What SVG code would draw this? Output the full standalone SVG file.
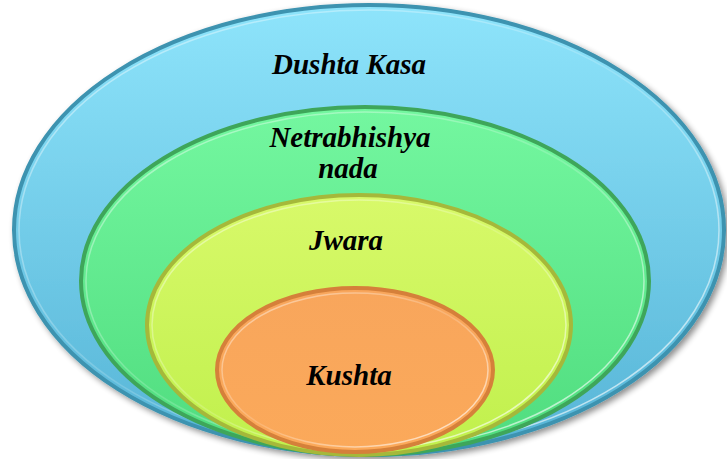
<svg xmlns="http://www.w3.org/2000/svg" width="727" height="459" viewBox="0 0 727 459">
<defs>
<linearGradient id="gBlue" x1="0" y1="0" x2="0" y2="1"><stop offset="0" stop-color="#8ee4fb"/><stop offset="1" stop-color="#56b4d6"/></linearGradient>
<linearGradient id="gGreen" x1="0" y1="0" x2="0" y2="1"><stop offset="0" stop-color="#74f7a0"/><stop offset="1" stop-color="#4fdc7e"/></linearGradient>
<linearGradient id="gYellow" x1="0" y1="0" x2="0" y2="1"><stop offset="0" stop-color="#d8f96a"/><stop offset="1" stop-color="#c0f04c"/></linearGradient>
<linearGradient id="gOrange" x1="0" y1="0" x2="0" y2="1"><stop offset="0" stop-color="#f8a65c"/><stop offset="1" stop-color="#fba95a"/></linearGradient>
<linearGradient id="gHi" x1="0" y1="0" x2="1" y2="1"><stop offset="0" stop-color="#ffffff" stop-opacity="0.5"/><stop offset="0.5" stop-color="#ffffff" stop-opacity="0.15"/><stop offset="1" stop-color="#ffffff" stop-opacity="0.8"/></linearGradient>
<filter id="shadow" x="-5%" y="-5%" width="112%" height="112%">
<feGaussianBlur in="SourceAlpha" stdDeviation="3"/>
<feOffset dx="3" dy="3" result="b"/>
<feComponentTransfer><feFuncA type="linear" slope="0.45"/></feComponentTransfer>
<feMerge><feMergeNode/><feMergeNode in="SourceGraphic"/></feMerge>
</filter>
</defs>
<style>
.lbl{font-family:"Liberation Serif","Times New Roman",serif;font-weight:bold;font-style:italic;font-size:29px;fill:#000;text-anchor:middle}
.hi{fill:none;stroke:url(#gHi);stroke-width:1.5}
</style>
<g id="dushta-kasa">
<ellipse cx="369" cy="230" rx="355" ry="225" fill="url(#gBlue)" stroke="#3d93b0" stroke-width="4" filter="url(#shadow)"/>
<ellipse cx="369" cy="230" rx="350" ry="220" class="hi"/>
<text class="lbl" x="349" y="74">Dushta Kasa</text>
</g>
<g id="netrabhishya-nada">
<ellipse cx="365" cy="281" rx="284" ry="174" fill="url(#gGreen)" stroke="#3ea65a" stroke-width="4"/>
<ellipse cx="365" cy="281" rx="279" ry="169" class="hi"/>
<text class="lbl" x="350" y="147">Netrabhishya</text>
<text class="lbl" x="348" y="178">nada</text>
</g>
<g id="jwara">
<ellipse cx="359" cy="325" rx="212" ry="130" fill="url(#gYellow)" stroke="#a5b83a" stroke-width="4"/>
<ellipse cx="359" cy="325" rx="207" ry="125" class="hi"/>
<text class="lbl" x="346" y="250">Jwara</text>
</g>
<g id="kushta">
<ellipse cx="355" cy="370" rx="138" ry="82" fill="url(#gOrange)" stroke="#d5803a" stroke-width="4"/>
<ellipse cx="355" cy="370" rx="133" ry="77" class="hi"/>
<text class="lbl" x="349" y="385">Kushta</text>
</g>
</svg>
